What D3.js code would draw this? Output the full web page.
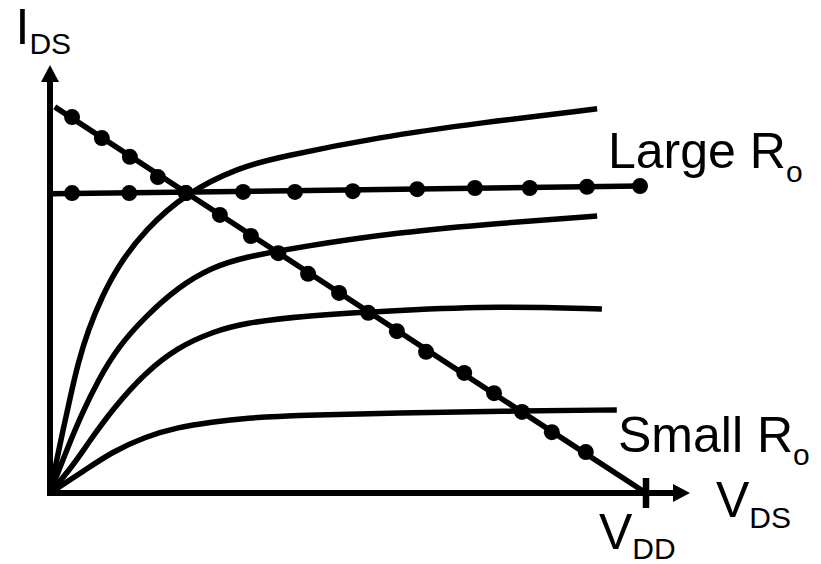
<!DOCTYPE html>
<html>
<head>
<meta charset="utf-8">
<script src="https://cdn.jsdelivr.net/npm/d3@7/dist/d3.min.js"></script>
<style>
  html, body { margin: 0; padding: 0; background: #fff; }
  svg { display: block; }
  text { font-family: "Liberation Sans", Arial, sans-serif; fill: #000; }
</style>
</head>
<body>
<svg id="chart" width="821" height="564"></svg>
<script>
// ---- data (V_DS, I_DS in arbitrary units; V_DD = 10) ----
const curveA = [[0,0],[0.12,0.90],[0.22,1.62],[0.34,2.46],[0.47,3.33],[0.64,4.18],[0.87,5.03],[1.14,5.82],[1.59,6.74],[2.28,7.69],[3.19,8.36],[3.86,8.62],[5.54,9.13],[7.21,9.49],[9.18,9.85]];
const curveB = [[0,0],[0.30,1.18],[0.54,2.05],[0.81,2.90],[1.14,3.74],[1.59,4.51],[2.15,5.28],[2.72,5.79],[3.27,6.05],[4.19,6.31],[5.87,6.69],[7.55,6.92],[9.18,7.10]];
const curveC = [[0,0],[0.37,0.67],[0.64,1.28],[1.04,2.13],[1.59,3.08],[2.15,3.74],[2.72,4.13],[3.27,4.36],[4.19,4.54],[5.87,4.69],[7.55,4.79],[9.26,4.72]];
const curveD = [[0,0],[0.59,0.59],[1.04,1.05],[1.59,1.44],[2.15,1.69],[2.72,1.82],[3.27,1.92],[4.19,2.00],[5.87,2.05],[7.55,2.10],[9.51,2.13]];
const curves = [curveA, curveB, curveC, curveD];

const loadLine = [[0.08,9.90],[10,0]];
const loadDots = [[0.37,9.64],[0.87,9.10],[1.34,8.62],[1.81,8.10],[2.28,7.69],[2.85,7.13],[3.37,6.59],[3.83,6.15],[4.33,5.62],[4.85,5.13],[5.34,4.62],[5.82,4.15],[6.31,3.62],[6.95,3.08],[7.45,2.56],[7.92,2.08],[8.42,1.56],[8.99,1.05]];

const flatLine = [[0,7.67],[9.90,7.87]];
const flatDots = [[0.37,7.69],[1.33,7.69],[2.28,7.69],[3.24,7.72],[4.11,7.72],[5.08,7.74],[6.16,7.79],[7.13,7.82],[8.05,7.82],[9.01,7.85],[9.90,7.87]];

const xTickVals = [10];

// ---- scales ----
const x = d3.scaleLinear().domain([0, 10]).range([50, 646]);
const y = d3.scaleLinear().domain([0, 10]).range([493, 103]);

const svg = d3.select("#chart");
const line = d3.line().x(d => x(d[0])).y(d => y(d[1]));
const smooth = d3.line().x(d => x(d[0])).y(d => y(d[1])).curve(d3.curveBasis);

// ---- axes ----
const x0 = x(0), y0 = y(0);
svg.append("line").attr("x1", x0).attr("y1", y0 + 3).attr("x2", x0).attr("y2", 80)
  .attr("stroke", "#000").attr("stroke-width", 6);
svg.append("path").attr("d", `M${x0},65 L${x0-9},82 L${x0+9},82 Z`).attr("fill", "#000");
svg.append("line").attr("x1", x0 - 3).attr("y1", y0).attr("x2", 675).attr("y2", y0)
  .attr("stroke", "#000").attr("stroke-width", 6);
svg.append("path").attr("d", `M690,${y0} L673,${y0-9} L673,${y0+9} Z`).attr("fill", "#000");
svg.selectAll(".tick").data(xTickVals).enter().append("line")
  .attr("x1", d => x(d)).attr("x2", d => x(d)).attr("y1", y0 - 15).attr("y2", y0 + 15)
  .attr("stroke", "#000").attr("stroke-width", 6.5);

// ---- curves ----
svg.selectAll(".curve").data(curves).enter().append("path")
  .attr("d", smooth).attr("fill", "none").attr("stroke", "#000")
  .attr("stroke-width", 5.5).attr("stroke-linejoin", "round");

// ---- load lines ----
svg.append("path").attr("d", line(loadLine)).attr("fill", "none").attr("stroke", "#000").attr("stroke-width", 5.5);
svg.append("path").attr("d", line(flatLine)).attr("fill", "none").attr("stroke", "#000").attr("stroke-width", 5.5);
svg.selectAll(".ld").data(loadDots).enter().append("circle")
  .attr("cx", d => x(d[0])).attr("cy", d => y(d[1])).attr("r", 8).attr("fill", "#000");
svg.selectAll(".fd").data(flatDots).enter().append("circle")
  .attr("cx", d => x(d[0])).attr("cy", d => y(d[1])).attr("r", 8).attr("fill", "#000");

// ---- labels ----
function label(tx, ty, main, sub, dy) {
  const t = svg.append("text").attr("x", tx).attr("y", ty).attr("font-size", 50);
  t.append("tspan").text(main);
  t.append("tspan").attr("font-size", 30).attr("dy", dy).text(sub);
}
label(15.5, 44, "I", "DS", 10);
label(608, 168, "Large R", "o", 14);
label(618, 452, "Small R", "o", 13);
label(716, 517, "V", "DS", 11);
label(599, 549, "V", "DD", 10);
</script>
</body>
</html>
